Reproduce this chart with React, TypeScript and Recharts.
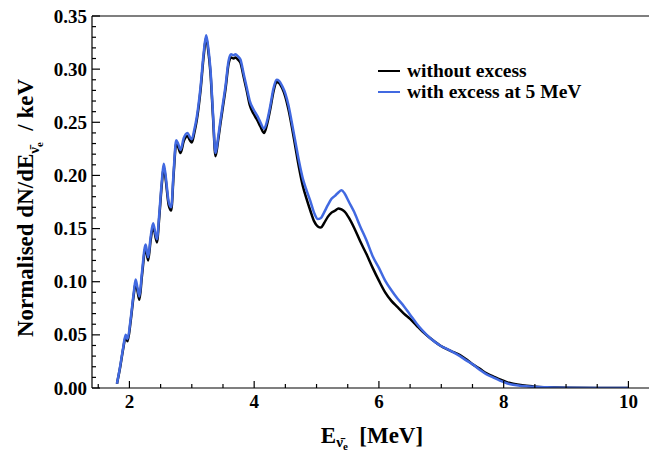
import React from "react";
import { LineChart, Line, XAxis, YAxis, ReferenceLine, Legend } from "recharts";

// energy grid in MeV
const energy = [
  1.8, 1.85, 1.9, 1.94, 1.97, 2.02, 2.07, 2.1, 2.13, 2.16, 2.2, 2.26, 2.3, 2.34, 2.38, 2.44, 2.48, 2.52,
  2.55, 2.58, 2.63, 2.67, 2.71, 2.75, 2.78, 2.82, 2.87, 2.93, 2.97, 3.0, 3.04, 3.08, 3.14, 3.19, 3.23,
  3.26, 3.3, 3.34, 3.38, 3.42, 3.46, 3.5, 3.54, 3.59, 3.63, 3.67, 3.7, 3.74, 3.78, 3.83, 3.88, 3.93,
  3.99, 4.05, 4.1, 4.16, 4.21, 4.26, 4.31, 4.36, 4.4, 4.45, 4.5, 4.55, 4.6, 4.66, 4.72, 4.78, 4.84,
  4.9, 4.96, 5.02, 5.07, 5.12, 5.18, 5.24, 5.3, 5.35, 5.4, 5.45, 5.52, 5.6, 5.7, 5.8, 5.9, 6.0, 6.1,
  6.2, 6.3, 6.4, 6.5, 6.6, 6.7, 6.82, 6.98, 7.15, 7.3, 7.4, 7.51, 7.62, 7.72, 7.83, 7.94, 8.05, 8.15,
  8.3, 8.47, 8.7, 9.0, 9.5, 10.0,
];

const withoutExcess = [
  0.004, 0.019, 0.037, 0.048, 0.044, 0.063, 0.088, 0.099, 0.091, 0.083, 0.105, 0.132, 0.12, 0.139,
  0.152, 0.137, 0.162, 0.192, 0.208, 0.197, 0.172, 0.167, 0.202, 0.23, 0.227, 0.221, 0.232, 0.237,
  0.233, 0.231, 0.24, 0.252, 0.28, 0.312, 0.33, 0.319, 0.296, 0.255, 0.218, 0.232, 0.249, 0.265, 0.281,
  0.305, 0.311, 0.31, 0.311, 0.309, 0.306, 0.293, 0.28, 0.266, 0.258, 0.252, 0.246, 0.24, 0.249,
  0.263, 0.279, 0.288, 0.287, 0.282, 0.274, 0.262, 0.247, 0.227, 0.207, 0.19, 0.178, 0.167, 0.157,
  0.152, 0.151, 0.155, 0.161, 0.165, 0.167, 0.169, 0.168, 0.166, 0.16, 0.151, 0.138, 0.126, 0.113,
  0.101, 0.09, 0.082, 0.076, 0.07, 0.065, 0.059, 0.053, 0.047, 0.04, 0.035, 0.031, 0.027, 0.022,
  0.018, 0.014, 0.011, 0.008, 0.0055, 0.004, 0.0025, 0.0015, 0.0007, 0.0002, 0.0001, 0,
];

const withExcess = [
  0.004, 0.02, 0.038, 0.05, 0.046, 0.065, 0.09, 0.102, 0.094, 0.086, 0.108, 0.135, 0.123, 0.142,
  0.155, 0.14, 0.165, 0.195, 0.211, 0.2, 0.175, 0.17, 0.205, 0.233, 0.23, 0.224, 0.235, 0.24, 0.236,
  0.234, 0.243, 0.255, 0.283, 0.315, 0.332, 0.322, 0.299, 0.258, 0.221, 0.235, 0.252, 0.268, 0.284,
  0.308, 0.314, 0.313, 0.314, 0.312, 0.309, 0.296, 0.283, 0.27, 0.262, 0.256, 0.25, 0.244, 0.252,
  0.266, 0.282, 0.29, 0.289, 0.284, 0.277, 0.266, 0.251, 0.232, 0.213, 0.197, 0.186, 0.176, 0.165,
  0.159, 0.16, 0.165, 0.172, 0.178, 0.181, 0.184, 0.186, 0.183, 0.175, 0.166, 0.152, 0.139, 0.124,
  0.113, 0.101, 0.092, 0.084, 0.077, 0.069, 0.061, 0.054, 0.047, 0.04, 0.035, 0.03, 0.026, 0.022,
  0.017, 0.013, 0.01, 0.007, 0.0045, 0.003, 0.0018, 0.0011, 0.0006, 0.0002, 0.0001, 0,
];

const xMajorTicks = [2, 4, 6, 8, 10];
const yMajorTicks = [0, 0.05, 0.1, 0.15, 0.2, 0.25, 0.3, 0.35];
const seriesNames = ["without excess", "with excess at 5 MeV"];
const seriesColors = ["#000000", "#4169e1"];

const data = energy.map((e, i) => ({ e, a: withoutExcess[i], b: withExcess[i] }));

// minor ticks every 0.5 MeV / 0.01
const xTicks: number[] = [];
for (let i = 3; i <= 20; i++) xTicks.push(i / 2);
const yTicks: number[] = [];
for (let i = 0; i <= 35; i++) yTicks.push(i / 100);

const font = "'Liberation Serif', 'Times New Roman', serif";
const isMajorX = (v: number) => xMajorTicks.includes(v);
const isMajorY = (v: number) => yMajorTicks.some((t) => Math.abs(t - v) < 1e-9);

const XTick = (props: any) => {
  const { x, y, payload } = props;
  const major = isMajorX(payload.value);
  return (
    <g>
      <line x1={x} x2={x} y1={y} y2={y - (major ? 7 : 4)} stroke="#000" strokeWidth={1.2} />
      {major && (
        <text x={x} y={y + 20} textAnchor="middle" fontFamily={font} fontWeight="bold" fontSize={19} fill="#000">
          {payload.value}
        </text>
      )}
    </g>
  );
};

const YTick = (props: any) => {
  const { x, y, payload } = props;
  const major = isMajorY(payload.value);
  return (
    <g>
      <line x1={x} x2={x + (major ? 8 : 4)} y1={y} y2={y} stroke="#000" strokeWidth={1.2} />
      {major && (
        <text x={x - 5} y={y + 6.5} textAnchor="end" fontFamily={font} fontWeight="bold" fontSize={19} fill="#000">
          {payload.value.toFixed(2)}
        </text>
      )}
    </g>
  );
};

const nuBar = "\u03bd\u0304";

const YTitle = () => (
  <text
    x={33}
    y={208}
    transform="rotate(-90, 33, 208)"
    textAnchor="middle"
    fontFamily={font}
    fontWeight="bold"
    fontSize={23}
    fill="#000"
  >
    <tspan>Normalised dN/dE</tspan>
    <tspan fontSize={15} dy={6}>{nuBar}</tspan>
    <tspan fontSize={11} dy={4}>e</tspan>
    <tspan dy={-10}>{"\u00a0 / keV"}</tspan>
  </text>
);

const XTitle = () => (
  <text x={372} y={443} textAnchor="middle" fontFamily={font} fontWeight="bold" fontSize={23} fill="#000">
    <tspan>E</tspan>
    <tspan fontSize={15} dy={4}>{nuBar}</tspan>
    <tspan fontSize={11} dy={3}>e</tspan>
    <tspan dy={-7}>{"\u00a0 [MeV]"}</tspan>
  </text>
);

const LegendBox = () => (
  <div style={{ fontFamily: font, fontWeight: "bold", fontSize: 19.5, color: "#000" }}>
    {seriesNames.map((n, i) => (
      <div key={n} style={{ display: "flex", alignItems: "center", height: 20.5 }}>
        <span style={{ display: "inline-block", width: 22, height: 2, background: seriesColors[i] }} />
        <span style={{ marginLeft: 7, whiteSpace: "nowrap" }}>{n}</span>
      </div>
    ))}
  </div>
);

export default function App() {
  return (
    <div style={{ position: "absolute", left: 0, top: 0, background: "#fff" }}>
      <LineChart width={649} height={454} data={data} margin={{ top: 16, right: 0, left: 0, bottom: 0 }}>
        <XAxis
          dataKey="e"
          type="number"
          domain={[1.4, 10.33]}
          allowDataOverflow
          ticks={xTicks}
          interval={0}
          tickSize={0}
          tickMargin={0}
          tick={<XTick />}
          height={66}
          axisLine={{ stroke: "#000", strokeWidth: 1.2 }}
          label={<XTitle />}
        />
        <YAxis
          type="number"
          domain={[0, 0.35]}
          allowDataOverflow
          ticks={yTicks}
          interval={0}
          tickSize={0}
          tickMargin={0}
          tick={<YTick />}
          width={92}
          axisLine={{ stroke: "#000", strokeWidth: 1.2 }}
          label={<YTitle />}
        />
        <ReferenceLine y={0.35} stroke="#000" strokeWidth={1.2} />
        <Legend
          layout="vertical"
          align="center"
          verticalAlign="middle"
          content={<LegendBox />}
          wrapperStyle={{ left: 378, top: 61, width: 250 }}
        />
        <Line
          type="monotone"
          dataKey="a"
          stroke={seriesColors[0]}
          strokeWidth={2.5}
          dot={false}
          isAnimationActive={false}
        />
        <Line
          type="monotone"
          dataKey="b"
          stroke={seriesColors[1]}
          strokeWidth={2.5}
          dot={false}
          isAnimationActive={false}
        />
      </LineChart>
    </div>
  );
}
